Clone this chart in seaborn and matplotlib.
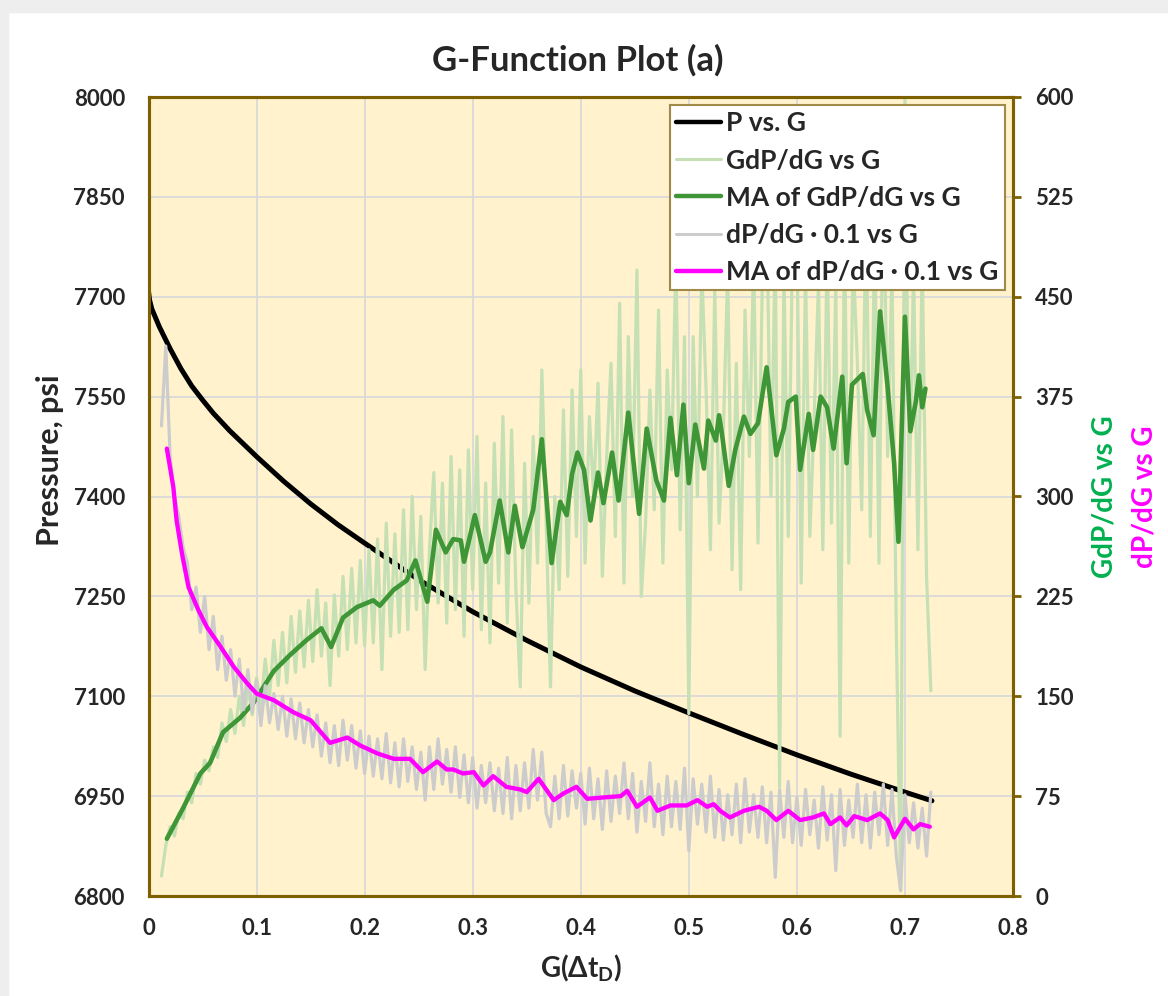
import numpy as np
import matplotlib
matplotlib.use("Agg")
import matplotlib.pyplot as plt
import seaborn as sns
from matplotlib.patches import Rectangle
from matplotlib.lines import Line2D

# Pressure vs G (left axis)
g_p = [0.0, 0.001, 0.003, 0.01, 0.02, 0.03, 0.04, 0.05, 0.06, 0.075, 0.1, 0.125, 0.15, 0.175,
       0.2, 0.25, 0.3, 0.35, 0.4, 0.45, 0.5, 0.55, 0.6, 0.65, 0.7, 0.725]
pressure = [7708, 7695, 7682, 7655, 7622, 7592, 7566, 7545, 7525, 7499, 7460, 7423, 7389, 7358,
            7330, 7275, 7227, 7184, 7144, 7108, 7075, 7043, 7012, 6983, 6956, 6943]

# raw G*dP/dG (right axis), sampled every 0.004 from G=0.012 to 0.724
gdp_raw = [
    15, 38, 52, 45, 62, 58, 78, 70, 92, 84, 102, 94, 112, 104, 130, 116, 140, 122, 150, 128, 158, 136, 164,
    142, 178, 150, 192, 158, 198, 160, 210, 168, 214, 172, 222, 176, 230, 180, 220, 158, 226, 180, 240, 185, 246, 190, 252, 188,
    260, 190, 268, 170, 280, 195, 272, 198, 290, 200, 300, 215, 285, 170, 260, 318, 220, 310, 205, 330, 215, 320, 195, 335, 230,
    345, 200, 310, 190, 340, 235, 360, 205, 350, 230, 157, 325, 220, 345, 250, 395, 280, 157, 300, 230, 365, 240, 380, 270, 395,
    250, 360, 300, 385, 240, 330, 400, 270, 445, 235, 420, 300, 470, 225, 280, 380, 290, 440, 250, 395, 320, 480, 275, 420, 137,
    420, 300, 470, 380, 260, 455, 280, 350, 470, 245, 400, 230, 440, 330, 480, 265, 460, 520, 300, 490, 82, 470, 270, 490, 500,
    235, 470, 270, 360, 460, 260, 490, 280, 460, 120, 500, 250, 480, 400, 290, 520, 270, 500, 250, 560, 330, 470, 200, 4, 600,
    300, 470, 260, 480, 240, 154,
]

# moving average of G*dP/dG
g_ma_gdp = [0.017, 0.032, 0.048, 0.057, 0.069, 0.085, 0.097, 0.116, 0.131, 0.146, 0.160, 0.169,
            0.180, 0.193, 0.208, 0.214, 0.227, 0.239, 0.247, 0.258, 0.266, 0.275, 0.282, 0.289,
            0.292, 0.302, 0.312, 0.316, 0.325, 0.333, 0.339, 0.346, 0.356, 0.364, 0.373, 0.381,
            0.387, 0.392, 0.397, 0.403, 0.409, 0.416, 0.421, 0.429, 0.435, 0.444, 0.454, 0.461,
            0.470, 0.477, 0.483, 0.489, 0.495, 0.500, 0.506, 0.514, 0.518, 0.525, 0.528, 0.531,
            0.537, 0.543, 0.551, 0.557, 0.564, 0.572, 0.578, 0.581, 0.588, 0.592, 0.599, 0.603,
            0.611, 0.615, 0.622, 0.628, 0.634, 0.642, 0.646, 0.651, 0.661, 0.665, 0.671, 0.677,
            0.684, 0.690, 0.694, 0.700, 0.705, 0.710, 0.713, 0.716, 0.719]
ma_gdp = [43, 66, 92, 100, 123, 134, 145, 169, 181, 192, 201, 187,
          209, 217, 222, 218, 230, 237, 252, 221, 275, 258, 268, 267,
          251, 286, 251, 258, 297, 258, 293, 262, 290, 343, 250, 296,
          286, 317, 333, 320, 282, 318, 295, 333, 297, 363, 287, 351,
          312, 297, 359, 316, 369, 310, 354, 321, 357, 342, 361, 345,
          308, 335, 360, 347, 355, 397, 354, 331, 351, 371, 375, 320,
          362, 335, 375, 367, 336, 390, 325, 384, 392, 365, 346, 439,
          382, 325, 266, 435, 349, 371, 391, 367, 381]

# raw dP/dG * 0.1, same G sampling as gdp_raw
dpdg_raw = [
    353, 413, 330, 300, 285, 262, 250, 215, 232, 198, 225, 185, 210, 170, 195, 162, 185, 150, 178, 140, 170, 138, 162,
    128, 158, 130, 152, 125, 150, 120, 148, 118, 145, 115, 140, 112, 136, 105, 130, 100, 128, 98, 132, 102, 128, 96, 124, 92,
    120, 90, 118, 88, 122, 85, 115, 82, 118, 86, 112, 80, 108, 72, 112, 80, 118, 84, 110, 78, 112, 74, 106, 70, 104,
    66, 98, 70, 100, 64, 96, 62, 104, 58, 98, 64, 100, 66, 110, 72, 108, 62, 52, 90, 58, 98, 60, 94, 66, 92,
    54, 96, 58, 88, 50, 94, 56, 90, 62, 100, 58, 92, 48, 86, 56, 100, 52, 84, 46, 90, 52, 86, 50, 96, 34,
    88, 54, 84, 48, 90, 44, 80, 42, 76, 46, 84, 40, 88, 48, 76, 44, 82, 40, 78, 14, 80, 44, 86, 40, 74,
    38, 80, 46, 72, 36, 82, 42, 76, 19, 80, 38, 72, 44, 84, 40, 76, 36, 78, 46, 84, 38, 80, 30, 4, 76,
    40, 70, 36, 66, 30, 78,
]

# moving average of dP/dG * 0.1
g_ma_dp = [0.017, 0.023, 0.026, 0.031, 0.037, 0.046, 0.054, 0.066, 0.079, 0.091, 0.100, 0.116,
           0.134, 0.150, 0.168, 0.184, 0.196, 0.212, 0.227, 0.242, 0.254, 0.267, 0.276, 0.282,
           0.291, 0.301, 0.310, 0.319, 0.331, 0.344, 0.350, 0.361, 0.375, 0.384, 0.396, 0.406,
           0.421, 0.437, 0.443, 0.452, 0.464, 0.471, 0.483, 0.498, 0.508, 0.517, 0.523, 0.529,
           0.538, 0.551, 0.565, 0.572, 0.581, 0.592, 0.603, 0.615, 0.625, 0.631, 0.640, 0.646,
           0.653, 0.665, 0.677, 0.684, 0.690, 0.700, 0.708, 0.714, 0.723]
ma_dp = [336, 307, 282, 257, 232, 215, 202, 188, 172, 160, 152, 147,
         138, 132, 115, 119, 113, 107, 103, 103, 93, 101, 95, 95,
         92, 93, 83, 90, 82, 80, 78, 88, 72, 77, 82, 73,
         74, 75, 79, 67, 74, 64, 68, 68, 72, 67, 69, 64,
         59, 64, 67, 64, 57, 64, 57, 59, 62, 54, 59, 53,
         60, 57, 62, 57, 44, 58, 50, 54, 52]

g_raw = np.linspace(0.012, 0.724, len(gdp_raw))

gold = "#7F6000"
sns.set_style("white")
plt.rcParams["font.family"] = ["Lato", "DejaVu Sans"]
plt.rcParams["font.weight"] = "bold"
plt.rcParams["mathtext.fontset"] = "custom"
plt.rcParams["mathtext.bf"] = "Lato:bold"
plt.rcParams["mathtext.rm"] = "Lato:bold"

W, H = 1168, 996
fig = plt.figure(figsize=(W / 100, H / 100), dpi=100)
fig.add_artist(Rectangle((0, 1 - 12 / H), 1, 12 / H, transform=fig.transFigure, color="#EEEEEE", zorder=0))
fig.add_artist(Rectangle((0, 0), 8 / W, 1, transform=fig.transFigure, color="#EEEEEE", zorder=0))

ax = fig.add_axes([148.5 / W, 1 - 896 / H, (1013 - 148.5) / W, (896 - 97) / H])
ax.set_facecolor("#FFF2CC")
ax2 = ax.twinx()

sns.lineplot(x=g_p, y=pressure, ax=ax, color="black", linewidth=3.6, estimator=None, sort=False, legend=False)

sns.lineplot(x=g_raw, y=gdp_raw, ax=ax2, color="#C5E0B4", linewidth=2.3, estimator=None, sort=False, legend=False)
sns.lineplot(x=g_ma_gdp, y=ma_gdp, ax=ax2, color="#3E9637", linewidth=3.3, estimator=None, sort=False, legend=False)
sns.lineplot(x=g_raw, y=dpdg_raw, ax=ax2, color="#CCCCCC", linewidth=2.3, estimator=None, sort=False, legend=False)
sns.lineplot(x=g_ma_dp, y=ma_dp, ax=ax2, color="#FF00FF", linewidth=3.1, estimator=None, sort=False, legend=False)

ax.set_xlim(0, 0.8)
ax.set_ylim(6800, 8000)
ax2.set_ylim(0, 600)
ax.set_xticks(np.arange(0, 0.81, 0.1))
ax.set_xticklabels(["0", "0.1", "0.2", "0.3", "0.4", "0.5", "0.6", "0.7", "0.8"])
ax.set_yticks(np.arange(6800, 8001, 150))
ax2.set_yticks(np.arange(0, 601, 75))
ax.grid(True, color="#D9D9D9", linewidth=1.3)
ax.set_axisbelow(True)
ax.set_xlabel("")
ax.set_ylabel("")
ax2.set_ylabel("")

ax.tick_params(axis="x", length=0, pad=16, labelsize=16)
ax.tick_params(axis="y", length=0, pad=17, labelsize=16)
ax2.tick_params(axis="y", length=6, width=2, color=gold, pad=10, labelsize=16)
for a in (ax, ax2):
    for s in a.spines.values():
        s.set_color(gold)
        s.set_linewidth(2.2)

handles = [
    Line2D([], [], color="black", linewidth=3.2),
    Line2D([], [], color="#C5E0B4", linewidth=2.2),
    Line2D([], [], color="#3E9637", linewidth=3.2),
    Line2D([], [], color="#CCCCCC", linewidth=2.2),
    Line2D([], [], color="#FF00FF", linewidth=3.2),
]
labels = ["P vs. G", "GdP/dG vs G", "MA of GdP/dG vs G", "dP/dG · 0.1 vs G", "MA of dP/dG · 0.1 vs G"]
leg = ax2.legend(handles, labels, loc="upper right", bbox_to_anchor=(0.9907, 0.990), borderaxespad=0,
                 fontsize=19, handlelength=1.7, handletextpad=0.2, labelspacing=0.5,
                 borderpad=0.24, fancybox=False, framealpha=1, facecolor="white", edgecolor="#A08A4A")
leg.get_frame().set_linewidth(1.5)

fig.text(578 / W, 1 - 60 / H, "G-Function Plot (a)", ha="center", va="center", fontsize=25, fontweight="bold")
fig.text(50 / W, 1 - 460 / H, "Pressure, psi", ha="center", va="center", rotation=90, fontsize=22, fontweight="bold")
fig.text(581 / W, 1 - 968 / H, r"G(Δt$_\mathbf{D}$)", ha="center", va="center", fontsize=20, fontweight="bold")
fig.text(1105 / W, 1 - 497 / H, "GdP/dG vs G", ha="center", va="center", rotation=90, fontsize=20,
         fontweight="bold", color="#00B050")
fig.text(1145 / W, 1 - 497 / H, "dP/dG vs G", ha="center", va="center", rotation=90, fontsize=20,
         fontweight="bold", color="#FF00FF")

fig.savefig("out.png", dpi=100)
